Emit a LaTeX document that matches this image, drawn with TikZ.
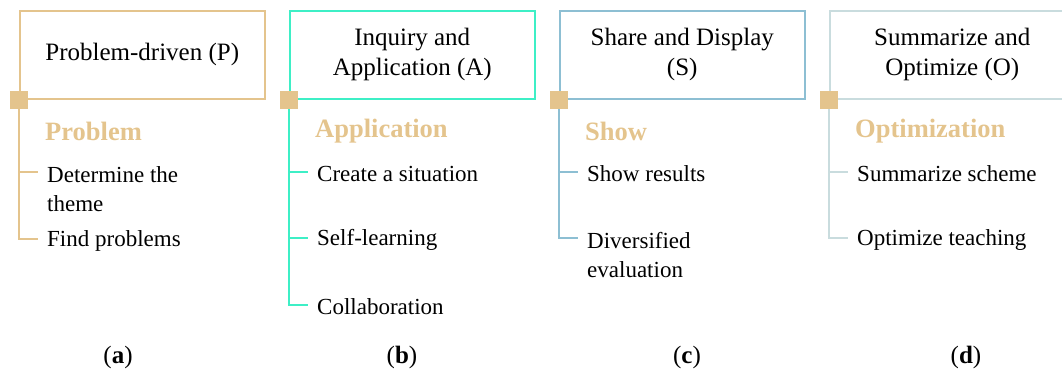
\documentclass[tikz,border=0pt]{standalone}
\usepackage{fontspec}
\setmainfont{Liberation Serif}
\usetikzlibrary{positioning, calc}
\definecolor{sand}{HTML}{E4C48D}
\definecolor{aqua}{HTML}{3EEFC6}
\definecolor{steel}{HTML}{8DBFD3}
\definecolor{mist}{HTML}{C9DCDE}
\tikzset{
  stage/.style={rectangle, draw=#1, line width=1.5pt, anchor=north west,
                minimum width=245pt, minimum height=88pt, inner sep=0pt,
                align=center, font=\fontsize{25}{30}\selectfont},
  knot/.style={rectangle, fill=sand, minimum size=18pt, inner sep=0pt},
  spine/.style={draw=#1, line width=1.5pt},
  head/.style={anchor=west, inner sep=0pt, text=sand,
               font=\fontsize{26.5}{30}\selectfont\bfseries},
  item/.style={anchor=west, inner sep=0pt, xshift=9pt, yshift=-2pt,
               align=left, font=\fontsize{23}{29}\selectfont},
  itemtwo/.style={item, anchor=north west, yshift=8pt},
  subcap/.style={inner sep=0pt, font=\fontsize{25}{28}\selectfont},
}

\begin{document}
\begin{tikzpicture}[x=1pt, y=-1pt]
  \useasboundingbox (0,0) rectangle (1062,370);

  %% (a) Problem-driven
  \node[stage=sand] (boxP) at (19,10) {Problem-driven (P)};
  \node[head] (headP) at (45,131) {Problem};
  \coordinate (tP1) at (38,172);
  \coordinate (tP2) at (38,239);
  \node[itemtwo] (itP1) at (tP1) {Determine the\\theme};
  \node[item] (itP2) at (tP2) {Find problems};
  \draw[spine=sand] (boxP.south west) -- (boxP.south west |- tP2) -- (tP2);
  \draw[spine=sand] (boxP.south west |- tP1) -- (tP1);
  \node[knot] (knotP) at (boxP.south west) {};
  \node[subcap] (capP) at (118,357) {(\textbf{a})};

  %% (b) Inquiry and Application
  \node[stage=aqua] (boxA) at (289,10) {Inquiry and\\Application (A)};
  \node[head] (headA) at (315,131) {Application};
  \coordinate (tA1) at (308,172);
  \coordinate (tA2) at (308,238);
  \coordinate (tA3) at (308,305);
  \node[item] (itA1) at (tA1) {Create a situation};
  \node[item] (itA2) at (tA2) {Self-learning};
  \node[item] (itA3) at (tA3) {Collaboration};
  \draw[spine=aqua] (boxA.south west) -- (boxA.south west |- tA3) -- (tA3);
  \foreach \t in {tA1, tA2}{
    \draw[spine=aqua] (boxA.south west |- \t) -- (\t);
  }
  \node[knot] (knotA) at (boxA.south west) {};
  \node[subcap] (capA) at (402,357) {(\textbf{b})};

  %% (c) Share and Display
  \node[stage=steel] (boxS) at (559,10) {Share and Display\\(S)};
  \node[head] (headS) at (585,131) {Show};
  \coordinate (tS1) at (578,172);
  \coordinate (tS2) at (578,238);
  \node[item] (itS1) at (tS1) {Show results};
  \node[itemtwo] (itS2) at (tS2) {Diversified\\evaluation};
  \draw[spine=steel] (boxS.south west) -- (boxS.south west |- tS2) -- (tS2);
  \draw[spine=steel] (boxS.south west |- tS1) -- (tS1);
  \node[knot] (knotS) at (boxS.south west) {};
  \node[subcap] (capS) at (687,357) {(\textbf{c})};

  %% (d) Summarize and Optimize
  \node[stage=mist] (boxO) at (829,10) {Summarize and\\Optimize (O)};
  \node[head] (headO) at (855,131) {Optimization};
  \coordinate (tO1) at (848,172);
  \coordinate (tO2) at (848,238);
  \node[item] (itO1) at (tO1) {Summarize scheme};
  \node[item] (itO2) at (tO2) {Optimize teaching};
  \draw[spine=mist] (boxO.south west) -- (boxO.south west |- tO2) -- (tO2);
  \draw[spine=mist] (boxO.south west |- tO1) -- (tO1);
  \node[knot] (knotO) at (boxO.south west) {};
  \node[subcap] (capO) at (966,357) {(\textbf{d})};
\end{tikzpicture}
\end{document}
